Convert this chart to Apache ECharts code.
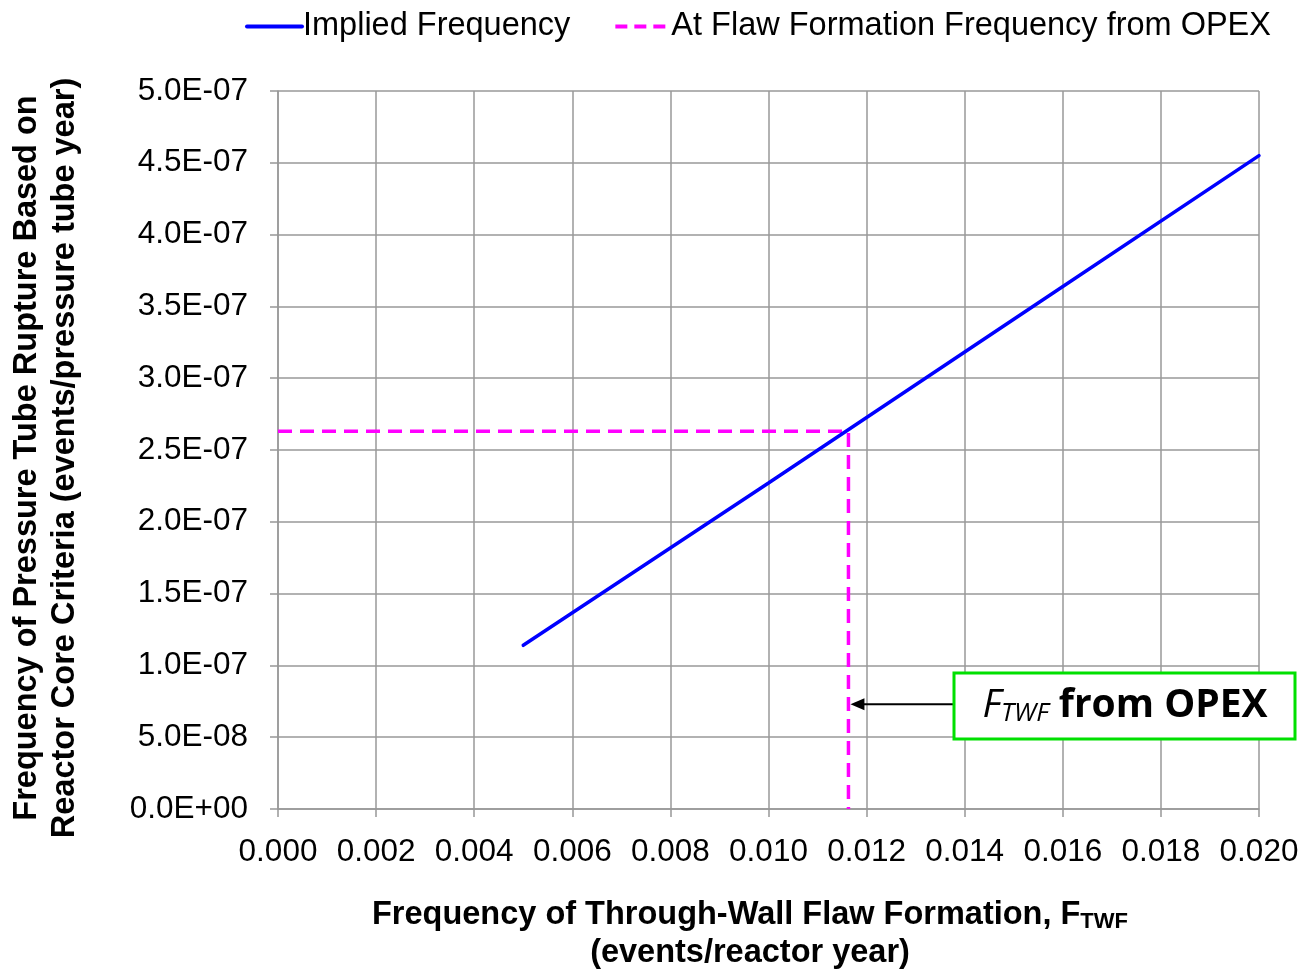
<!DOCTYPE html>
<html>
<head>
<meta charset="utf-8">
<script src="https://cdn.jsdelivr.net/npm/echarts@6/dist/echarts.min.js"></script>
<style>
html,body{margin:0;padding:0;background:#fff;}
#c{width:1303px;height:972px;}
</style>
</head>
<body>
<div id="c"></div>
<script>
// ---- data ----
const impliedX = [0.005, 0.010, 0.015, 0.020];
const impliedY = [1.14e-7, 2.27e-7, 3.41e-7, 4.55e-7];
const opexFlawX = 0.01163;
const opexRuptureY = 2.63e-7;
const opexX = [0, opexFlawX, opexFlawX];
const opexY = [opexRuptureY, opexRuptureY, 0];
const annotationY = 7.3e-8;
const seriesNames = ['Implied Frequency', 'At Flaw Formation Frequency from OPEX'];

function sci(v){
  let s = v.toExponential(1);
  let parts = s.split('e');
  let e = parseInt(parts[1], 10);
  return parts[0] + 'E' + (e < 0 ? '-' : '+') + String(Math.abs(e)).padStart(2, '0');
}

const chart = echarts.init(document.getElementById('c'), null, {renderer:'canvas'});
const FONT = '"Liberation Sans", Arial, sans-serif';
const gridColor = '#989898';

chart.setOption({
  animation:false,
  backgroundColor:'#fff',
  grid:{left:278, right:44, top:91, bottom:163, containLabel:false},
  legend:{
    top:5, left:240,
    itemWidth:55, itemHeight:10, itemGap:43,
    textStyle:{fontFamily:FONT, fontSize:32.5, color:'#000', padding:[0,0,0,-4]},
    data:[
      {name:seriesNames[0], itemStyle:{opacity:0}, lineStyle:{width:4, color:'#0000FF'}},
      {name:seriesNames[1], itemStyle:{opacity:0}, lineStyle:{width:4, color:'#FF00FF', type:[12,7]}}
    ]
  },
  xAxis:{
    type:'value', min:0, max:0.02, interval:0.002,
    axisLine:{show:true, lineStyle:{color:gridColor, width:1.5}},
    axisTick:{show:true, length:8, lineStyle:{color:gridColor, width:1.5}},
    splitLine:{show:true, lineStyle:{color:gridColor, width:1.5}},
    axisLabel:{formatter:v=>v.toFixed(3), fontFamily:FONT, fontSize:31.5, color:'#000', margin:27}
  },
  yAxis:{
    type:'value', min:0, max:5e-7, interval:5e-8,
    axisLine:{show:true, lineStyle:{color:gridColor, width:1.5}},
    axisTick:{show:true, length:8, lineStyle:{color:gridColor, width:1.5}},
    splitLine:{show:true, lineStyle:{color:gridColor, width:1.5}},
    axisLabel:{formatter:sci, fontFamily:FONT, fontSize:31.5, color:'#000', margin:30}
  },
  series:[
    {
      name:seriesNames[0], type:'line', symbol:'none',
      data:impliedX.map((x,i)=>[x, impliedY[i]]),
      lineStyle:{color:'#0000FF', width:3.5, cap:'round'},
      itemStyle:{color:'#0000FF'}, z:3
    },
    {
      name:seriesNames[1], type:'line', symbol:'none',
      data:opexX.map((x,i)=>[x, opexY[i]]),
      lineStyle:{color:'#FF00FF', width:3.5, type:[14,8]},
      itemStyle:{color:'#FF00FF'}, z:2
    }
  ]
});

// annotation anchored to the OPEX flaw frequency
const tip = chart.convertToPixel({gridIndex:0}, [opexFlawX, annotationY]);
chart.setOption({
  graphic:[
    {
      id:'xt1', type:'text', x:750, y:915,
      style:{
        text:'{b|Frequency of Through-Wall Flaw Formation, F}{s|TWF}',
        align:'center', verticalAlign:'middle',
        rich:{
          b:{fontFamily:FONT, fontWeight:'bold', fontSize:32.5, fill:'#000'},
          s:{fontFamily:FONT, fontWeight:'bold', fontSize:22, fill:'#000', padding:[14,0,0,0]}
        }
      }
    },
    {
      id:'xt2', type:'text', x:750, y:953,
      style:{
        text:'(events/reactor year)',
        align:'center', verticalAlign:'middle',
        font:'bold 32.5px "Liberation Sans", Arial, sans-serif', fill:'#000'
      }
    },
    {
      id:'yt', type:'text', x:46, y:458, rotation:Math.PI/2,
      style:{
        text:'Frequency of Pressure Tube Rupture Based on\nReactor Core Criteria (events/pressure tube year)',
        align:'center', verticalAlign:'middle', lineHeight:38,
        font:'bold 32.5px "Liberation Sans", Arial, sans-serif', fill:'#000'
      }
    },
    {
      id:'arrowLine', type:'line', shape:{x1:954, y1:tip[1], x2:tip[0]+14, y2:tip[1]},
      style:{stroke:'#000', lineWidth:2}, z:10
    },
    {
      id:'arrowHead', type:'polygon', shape:{points:[[tip[0]+2, tip[1]],[tip[0]+16, tip[1]-6],[tip[0]+16, tip[1]+6]]},
      style:{fill:'#000'}, z:10
    },
    {
      id:'box', type:'rect', shape:{x:954, y:673, width:341, height:66},
      style:{fill:'#fff', stroke:'#00E000', lineWidth:3}, z:10
    },
    {
      id:'boxText', type:'text', x:1125, y:706, z:11,
      style:{
        text:'{i|F}{s|TWF}{b| from OPEX}',
        align:'center', verticalAlign:'middle',
        rich:{
          i:{fontFamily:'"Open Sans", sans-serif', fontStyle:'italic', fontSize:39, fill:'#000'},
          s:{fontFamily:'"Open Sans", sans-serif', fontStyle:'italic', fontSize:26, fill:'#000', padding:[16,0,0,0]},
          b:{fontFamily:'"Open Sans", sans-serif', fontWeight:'bold', fontSize:39, fill:'#000'}
        }
      }
    }
  ]
});
</script>
</body>
</html>
